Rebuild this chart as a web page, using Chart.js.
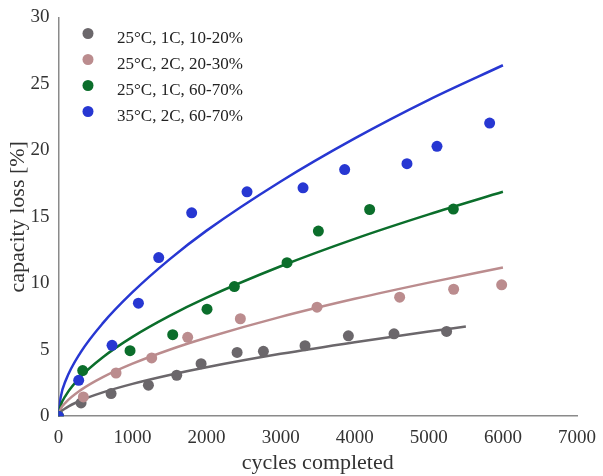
<!DOCTYPE html>
<html>
<head>
<meta charset="utf-8">
<script src="https://cdn.jsdelivr.net/npm/chart.js@4"></script>
<style>
  html, body { margin: 0; padding: 0; background: #fff; }
  #wrap { width: 603px; height: 476px; position: relative; }
</style>
</head>
<body>
<div id="wrap"><canvas id="myChart"></canvas></div>
<script>
// measured points
const grayCycles = [0, 306, 711, 1215, 1597, 1926, 2412, 2767, 3329, 3914, 4530, 5240];
const grayLoss = [0, 1.0, 1.7, 2.33, 3.08, 3.95, 4.8, 4.88, 5.3, 6.05, 6.2, 6.38];
const pinkCycles = [0, 337, 778, 1259, 1745, 2456, 3491, 4606, 5335, 5983];
const pinkLoss = [0, 1.45, 3.25, 4.38, 5.93, 7.33, 8.2, 8.95, 9.55, 9.88];
const greenCycles = [0, 328, 967, 1543, 2006, 2375, 3086, 3509, 4201, 5331];
const greenLoss = [0, 3.43, 4.93, 6.13, 8.05, 9.75, 11.55, 13.93, 15.55, 15.58];
const blueCycles = [0, 274, 724, 1080, 1354, 1799, 2546, 3302, 3864, 4705, 5110, 5821];
const blueLoss = [0, 2.7, 5.33, 8.5, 11.93, 15.3, 16.88, 17.18, 18.55, 19.0, 20.3, 22.05];

// fitted curves
const fitCycles = [0, 30, 100, 300, 600, 1000, 1500, 2000, 3000, 4000, 5000, 6000];
const grayFitCycles = [0, 30, 100, 300, 600, 1000, 1500, 2000, 3000, 4000, 5000, 5500];
const grayFit = [0, 0.30, 0.61, 1.18, 1.79, 2.43, 3.1, 3.68, 4.69, 5.57, 6.37, 6.75];
const pinkFit = [0, 0.52, 1.04, 1.96, 2.94, 3.95, 5.0, 5.9, 7.47, 8.83, 10.05, 11.18];
const greenFit = [0, 0.78, 1.57, 2.97, 4.44, 5.97, 7.55, 8.92, 11.28, 13.34, 15.18, 16.88];
const blueFit = [0, 1.4, 2.7, 4.8, 7.0, 9.33, 11.8, 13.96, 17.66, 20.9, 23.8, 26.4];

const labels = ['25°C, 1C, 10-20%', '25°C, 2C, 20-30%', '25°C, 1C, 60-70%', '35°C, 2C, 60-70%'];
const colors = ['#6b676b', '#bb8c8e', '#0b6e2b', '#2737d2'];
const xTicks = [0, 1000, 2000, 3000, 4000, 5000, 6000, 7000];
const yTicks = [0, 5, 10, 15, 20, 25, 30];

const toXY = (xs, ys) => xs.map((x, i) => ({ x, y: ys[i] }));

const pointSets = [
  [grayCycles, grayLoss],
  [pinkCycles, pinkLoss],
  [greenCycles, greenLoss],
  [blueCycles, blueLoss],
];
const fitSets = [
  [grayFitCycles, grayFit],
  [fitCycles, pinkFit],
  [fitCycles, greenFit],
  [fitCycles, blueFit],
];

const datasets = [];
pointSets.forEach(([xs, ys], i) => {
  datasets.push({
    label: labels[i],
    data: toXY(xs, ys),
    showLine: false,
    pointRadius: 5.5,
    pointHoverRadius: 5.5,
    pointBorderWidth: 0,
    backgroundColor: colors[i],
    borderColor: colors[i],
    order: 3 - i,
    isPoints: true,
  });
});
fitSets.forEach(([xs, ys], i) => {
  datasets.push({
    label: labels[i] + ' fit',
    data: toXY(xs, ys),
    showLine: true,
    pointRadius: 0,
    borderWidth: 2.5,
    borderColor: colors[i],
    backgroundColor: colors[i],
    cubicInterpolationMode: 'monotone',
    order: 10,
  });
});

const legendPlugin = {
  id: 'insideLegend',
  afterDraw(chart) {
    const ctx = chart.ctx;
    ctx.save();
    ctx.font = '17px "Liberation Serif", "Times New Roman", serif';
    ctx.textBaseline = 'alphabetic';
    ctx.textAlign = 'left';
    chart.data.datasets.filter(d => d.isPoints).forEach((d, i) => {
      const y = 33.5 + i * 26;
      ctx.fillStyle = d.backgroundColor;
      ctx.beginPath();
      ctx.arc(88, y, 5.5, 0, Math.PI * 2);
      ctx.fill();
      ctx.fillStyle = '#222';
      ctx.fillText(d.label, 117, y + 9.5);
    });
    ctx.restore();
  }
};

const serif = '"Liberation Serif", "Times New Roman", serif';

new Chart(document.getElementById('myChart'), {
  type: 'scatter',
  data: { datasets },
  plugins: [legendPlugin],
  options: {
    responsive: true,
    maintainAspectRatio: false,
    animation: false,
    layout: { padding: 0 },
    plugins: {
      legend: { display: false },
      tooltip: { enabled: false },
    },
    scales: {
      x: {
        type: 'linear',
        min: 0,
        max: 7000,
        afterBuildTicks: axis => { axis.ticks = xTicks.map(v => ({ value: v })); },
        afterFit: axis => { axis.paddingRight -= 3; },
        grid: { display: false, drawTicks: false },
        border: { display: true, color: '#8a8a8a', width: 1.5 },
        ticks: { color: '#333', padding: 10, font: { family: serif, size: 19 }, callback: v => v },
        title: { display: true, text: 'cycles completed', color: '#333', font: { family: serif, size: 22, lineHeight: 1 }, padding: { top: -7, bottom: 2 } },
      },
      y: {
        type: 'linear',
        min: 0,
        max: 30,
        afterBuildTicks: axis => { axis.ticks = yTicks.map(v => ({ value: v })); },
        afterFit: axis => { axis.paddingTop -= 3; },
        grid: { display: false, drawTicks: false },
        border: { display: true, color: '#8a8a8a', width: 1.5 },
        ticks: { color: '#333', padding: 9, font: { family: serif, size: 19 } },
        title: { display: true, text: 'capacity loss [%]', color: '#333', font: { family: serif, size: 22, lineHeight: 1 }, padding: { top: 7, bottom: -7.6 } },
      },
    },
  },
});
</script>
</body>
</html>
